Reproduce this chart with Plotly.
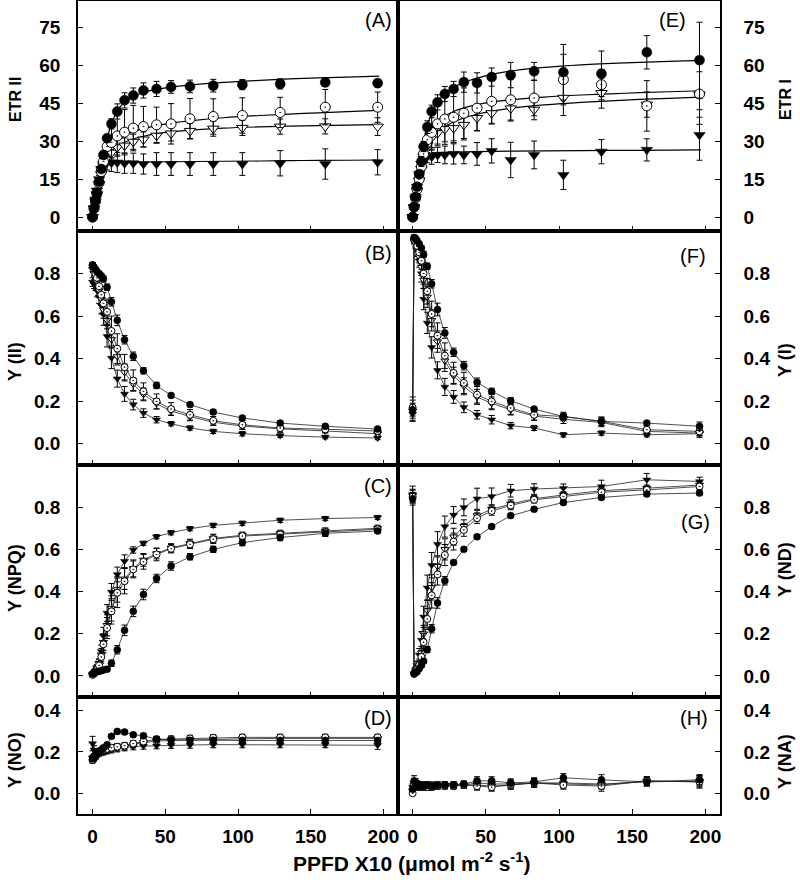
import plotly.graph_objects as go
from plotly.subplots import make_subplots

# ---------------- data ----------------
ppfd = [0, 1, 2, 3, 4.5, 6, 7.5, 10, 13, 17, 22, 28, 35, 44, 54, 67, 83, 103, 129, 160, 196]
fit_ppfd = [0, 2, 4, 6, 8, 10, 13, 17, 22, 28, 35, 44, 55, 70, 90, 115, 145, 175, 197]

# (A) ETR II
etr2_s1 = [0, 3.5, 6.5, 9.5, 14, 19, 24.6, 31.2, 36.9, 41.8, 46.2, 48.1, 50.1, 50.7, 51.5, 51.7, 52.0, 52.4, 52.7, 53.3, 53.0]
etr2_s1_err = [0.5, 0.5, 0.8, 1, 1, 1.2, 1.5, 1.5, 2, 3, 3, 3, 3, 3, 2.5, 2.5, 2.5, 2, 2, 1.5, 1.5]
etr2_s2 = [0, 3.4, 6.3, 9.3, 13.5, 18, 22, 27.9, 29.5, 32.1, 33.6, 35.2, 35.8, 36.5, 36.9, 38.9, 39.8, 40.2, 41.4, 43.5, 43.5]
etr2_s2_err = [0.5, 0.5, 0.8, 1, 1.5, 2, 3, 4, 6, 8, 9, 9, 8, 7, 8, 8, 7, 7, 6, 7, 6]
etr2_s3 = [0, 3.3, 6.2, 9, 13, 17, 20.5, 23.5, 25.5, 27.6, 28.3, 29.8, 30.7, 32.2, 33.1, 34.1, 35.0, 35.3, 35.8, 35.9, 35.8]
etr2_s3_err = [0.5, 0.5, 0.8, 1, 1.2, 1.5, 2, 2, 2.5, 3, 3, 3, 3, 3, 3, 3, 3, 3, 3, 3, 3.5]
etr2_s4 = [0, 3.5, 7, 10.5, 15, 19, 21, 21.6, 21.5, 21.6, 21.3, 21.3, 21.0, 21.0, 21.0, 21.0, 21.0, 21.0, 21.3, 21.0, 21.7]
etr2_s4_err = [0.5, 0.5, 1, 1, 1.5, 2, 2.5, 3, 3.5, 4, 4, 4, 4, 4.5, 4.5, 4.5, 4.5, 4.5, 5, 6, 5]
etr2_fit1 = [0, 7, 14, 20.5, 26, 31, 37, 42, 45.5, 47.8, 49.3, 50.5, 51.5, 52.4, 53.3, 54.1, 54.9, 55.4, 55.8]
etr2_fit2 = [0, 6.5, 13, 18, 22, 25, 28, 30.5, 32.3, 33.8, 35, 36.2, 37.3, 38.3, 39.3, 40.2, 41.0, 41.7, 42.2]
etr2_fit3 = [0, 6.3, 12.5, 17.5, 21, 23.5, 26, 28, 29.6, 30.9, 32, 33, 33.8, 34.5, 35.2, 35.7, 36.1, 36.4, 36.6]
etr2_fit4 = [0, 7, 13.5, 18, 20.5, 21.3, 21.6, 21.6, 21.6, 21.6, 21.7, 21.8, 21.9, 22, 22.1, 22.2, 22.4, 22.5, 22.6]

# (E) ETR I
etr1_s1 = [0, 4, 8, 12, 17, 22, 27.9, 35.6, 41.8, 45.4, 48.7, 50.7, 53.4, 53.1, 55.4, 56.2, 57.7, 57.3, 56.7, 65.2, 62.1]
etr1_s1_err = [0.5, 0.5, 1, 1, 1.5, 2, 2, 2.5, 2.5, 3, 3, 3, 4, 4, 3.6, 5, 3.5, 11, 9, 6.6, 15]
etr1_s2 = [0, 4, 7.5, 11, 15, 20, 25, 30.6, 33.5, 36.9, 38.8, 39.5, 41.1, 43.1, 45.8, 46.4, 47.1, 54.4, 52.4, 44.0, 48.7]
etr1_s2_err = [0.5, 0.5, 1, 1, 1.5, 2, 3, 5, 7, 8, 10, 10, 10, 9, 9, 8, 7, 10, 6, 10, 12]
etr1_s3 = [0, 3.8, 7.3, 10.5, 14.5, 19, 24, 28.5, 31.5, 33.2, 34.8, 35.2, 36.5, 39.2, 41.1, 43.0, 42.5, 47.2, 49.1, 44.5, 48.5]
etr1_s3_err = [0.5, 0.5, 1, 1, 1.5, 2, 2.5, 3, 4, 5, 5, 5, 6, 5, 4, 5, 4, 7, 6, 5, 9]
etr1_s4 = [0, 4, 8, 12, 17, 21, 23, 24, 23.9, 24.6, 24.6, 25, 24.6, 25, 26.2, 22.6, 24.6, 16.7, 25.9, 26.6, 32.5]
etr1_s4_err = [0.5, 0.5, 1, 1, 1.5, 2, 2, 2.5, 3, 3, 3.5, 4, 3.5, 4.5, 4.8, 7, 5.5, 5.8, 4.8, 4.4, 10]
etr1_fit1 = [0, 9, 17.5, 25, 31, 36, 41, 45.5, 48.8, 51.3, 53.3, 55, 56.6, 58, 59.2, 60.2, 61, 61.6, 62]
etr1_fit2 = [0, 8.8, 17, 24, 29, 32.5, 35.5, 38, 40, 41.8, 43.2, 44.5, 45.6, 46.6, 47.5, 48.3, 49, 49.6, 50]
etr1_fit3 = [0, 8.5, 16, 22, 26, 28.7, 31.3, 33.8, 35.8, 37.6, 39.2, 40.7, 42, 43.3, 44.4, 45.4, 46.3, 47, 47.5]
etr1_fit4 = [0, 8, 15.5, 20.5, 23.3, 24.6, 25.2, 25.5, 25.6, 25.7, 25.8, 25.9, 26, 26.1, 26.2, 26.3, 26.4, 26.5, 26.6]

# (B) Y(II)
y2_s1 = [0.84, 0.83, 0.82, 0.81, 0.80, 0.79, 0.775, 0.736, 0.667, 0.58, 0.489, 0.411, 0.343, 0.274, 0.227, 0.184, 0.149, 0.121, 0.097, 0.082, 0.069]
y2_s1_err = [0.01, 0.01, 0.01, 0.01, 0.01, 0.01, 0.015, 0.015, 0.02, 0.025, 0.02, 0.02, 0.015, 0.015, 0.01, 0.01, 0.01, 0.01, 0.01, 0.01, 0.01]
y2_s2 = [0.84, 0.82, 0.80, 0.78, 0.74, 0.70, 0.66, 0.62, 0.53, 0.447, 0.36, 0.297, 0.246, 0.199, 0.163, 0.136, 0.108, 0.089, 0.074, 0.068, 0.060]
y2_s2_err = [0.01, 0.01, 0.02, 0.02, 0.03, 0.04, 0.05, 0.06, 0.07, 0.07, 0.06, 0.05, 0.04, 0.035, 0.03, 0.025, 0.02, 0.02, 0.02, 0.015, 0.015]
y2_s3 = [0.82, 0.80, 0.78, 0.76, 0.72, 0.68, 0.63, 0.58, 0.49, 0.41, 0.335, 0.28, 0.232, 0.188, 0.154, 0.128, 0.101, 0.083, 0.07, 0.06, 0.047]
y2_s3_err = [0.01, 0.01, 0.02, 0.02, 0.03, 0.03, 0.04, 0.04, 0.04, 0.04, 0.04, 0.03, 0.03, 0.025, 0.02, 0.02, 0.015, 0.015, 0.015, 0.01, 0.01]
y2_s4 = [0.76, 0.75, 0.74, 0.72, 0.69, 0.65, 0.607, 0.505, 0.403, 0.306, 0.234, 0.184, 0.144, 0.113, 0.094, 0.074, 0.058, 0.047, 0.038, 0.031, 0.027]
y2_s4_err = [0.02, 0.02, 0.02, 0.03, 0.03, 0.04, 0.05, 0.05, 0.05, 0.04, 0.035, 0.025, 0.02, 0.015, 0.01, 0.01, 0.01, 0.01, 0.008, 0.008, 0.008]

# (F) Y(I)
y1_s1 = [0.16, 0.97, 0.965, 0.955, 0.94, 0.92, 0.89, 0.834, 0.752, 0.631, 0.521, 0.43, 0.367, 0.289, 0.246, 0.202, 0.163, 0.128, 0.105, 0.097, 0.082]
y1_s1_err = [0.03, 0.01, 0.01, 0.01, 0.01, 0.01, 0.015, 0.015, 0.02, 0.03, 0.025, 0.02, 0.02, 0.02, 0.015, 0.015, 0.01, 0.015, 0.02, 0.01, 0.02]
y1_s2 = [0.17, 0.96, 0.95, 0.93, 0.90, 0.86, 0.80, 0.717, 0.61, 0.508, 0.414, 0.333, 0.286, 0.231, 0.199, 0.168, 0.136, 0.128, 0.105, 0.066, 0.058]
y1_s2_err = [0.05, 0.01, 0.02, 0.02, 0.03, 0.04, 0.05, 0.06, 0.06, 0.06, 0.06, 0.05, 0.05, 0.04, 0.035, 0.03, 0.025, 0.02, 0.02, 0.02, 0.02]
y1_s3 = [0.155, 0.95, 0.94, 0.92, 0.88, 0.83, 0.77, 0.69, 0.58, 0.48, 0.39, 0.32, 0.27, 0.22, 0.19, 0.16, 0.13, 0.115, 0.1, 0.058, 0.05]
y1_s3_err = [0.05, 0.01, 0.02, 0.02, 0.03, 0.04, 0.04, 0.05, 0.05, 0.05, 0.05, 0.04, 0.04, 0.035, 0.03, 0.025, 0.02, 0.02, 0.02, 0.02, 0.02]
y1_s4 = [0.14, 0.96, 0.94, 0.91, 0.86, 0.80, 0.68, 0.568, 0.453, 0.345, 0.267, 0.22, 0.171, 0.136, 0.113, 0.085, 0.074, 0.042, 0.05, 0.042, 0.047]
y1_s4_err = [0.03, 0.02, 0.02, 0.03, 0.03, 0.04, 0.05, 0.05, 0.05, 0.04, 0.04, 0.03, 0.025, 0.02, 0.02, 0.015, 0.012, 0.01, 0.01, 0.01, 0.01]

# (C) Y(NPQ)
npq_s1 = [0.01, 0.015, 0.018, 0.02, 0.022, 0.025, 0.028, 0.032, 0.06, 0.124, 0.216, 0.306, 0.386, 0.462, 0.521, 0.565, 0.60, 0.632, 0.656, 0.676, 0.687]
npq_s1_err = [0.005, 0.005, 0.005, 0.005, 0.005, 0.005, 0.005, 0.01, 0.015, 0.02, 0.025, 0.025, 0.025, 0.02, 0.02, 0.015, 0.015, 0.015, 0.015, 0.015, 0.01]
npq_s2 = [0.005, 0.01, 0.02, 0.03, 0.05, 0.09, 0.15, 0.227, 0.306, 0.394, 0.449, 0.505, 0.541, 0.576, 0.603, 0.624, 0.648, 0.663, 0.671, 0.682, 0.695]
npq_s2_err = [0.005, 0.005, 0.01, 0.015, 0.02, 0.03, 0.04, 0.05, 0.06, 0.07, 0.06, 0.04, 0.035, 0.03, 0.02, 0.02, 0.02, 0.015, 0.015, 0.015, 0.015]
npq_s3 = [0.005, 0.01, 0.02, 0.035, 0.06, 0.1, 0.16, 0.24, 0.32, 0.41, 0.46, 0.51, 0.55, 0.58, 0.607, 0.628, 0.652, 0.667, 0.676, 0.687, 0.70]
npq_s3_err = [0.005, 0.005, 0.01, 0.015, 0.02, 0.03, 0.04, 0.05, 0.06, 0.06, 0.05, 0.04, 0.03, 0.025, 0.02, 0.02, 0.02, 0.015, 0.015, 0.015, 0.015]
npq_s4 = [0.01, 0.015, 0.025, 0.04, 0.06, 0.116, 0.19, 0.298, 0.398, 0.481, 0.544, 0.597, 0.629, 0.66, 0.679, 0.698, 0.714, 0.724, 0.738, 0.746, 0.751]
npq_s4_err = [0.005, 0.005, 0.01, 0.015, 0.02, 0.03, 0.04, 0.04, 0.04, 0.035, 0.03, 0.015, 0.01, 0.01, 0.01, 0.01, 0.01, 0.01, 0.01, 0.01, 0.01]

# (G) Y(ND)
nd_s1 = [0.84, 0.01, 0.015, 0.02, 0.035, 0.05, 0.07, 0.125, 0.224, 0.346, 0.451, 0.538, 0.60, 0.66, 0.708, 0.76, 0.79, 0.822, 0.846, 0.862, 0.867]
nd_s1_err = [0.03, 0.005, 0.005, 0.005, 0.01, 0.01, 0.01, 0.015, 0.02, 0.025, 0.02, 0.01, 0.01, 0.01, 0.01, 0.01, 0.01, 0.01, 0.01, 0.01, 0.01]
nd_s2 = [0.85, 0.01, 0.02, 0.03, 0.05, 0.09, 0.16, 0.27, 0.382, 0.481, 0.573, 0.637, 0.692, 0.748, 0.782, 0.808, 0.835, 0.851, 0.871, 0.882, 0.898]
nd_s2_err = [0.03, 0.005, 0.01, 0.01, 0.02, 0.03, 0.04, 0.05, 0.06, 0.05, 0.05, 0.04, 0.03, 0.025, 0.02, 0.02, 0.015, 0.015, 0.015, 0.015, 0.015]
nd_s3 = [0.855, 0.01, 0.02, 0.035, 0.06, 0.11, 0.2, 0.31, 0.42, 0.52, 0.60, 0.66, 0.71, 0.76, 0.79, 0.815, 0.84, 0.858, 0.878, 0.89, 0.905]
nd_s3_err = [0.03, 0.005, 0.01, 0.01, 0.02, 0.03, 0.04, 0.05, 0.06, 0.05, 0.05, 0.04, 0.03, 0.025, 0.02, 0.02, 0.015, 0.015, 0.015, 0.015, 0.015]
nd_s4 = [0.86, 0.01, 0.03, 0.05, 0.1, 0.17, 0.28, 0.418, 0.525, 0.624, 0.708, 0.763, 0.799, 0.84, 0.851, 0.878, 0.886, 0.89, 0.898, 0.93, 0.922]
nd_s4_err = [0.04, 0.005, 0.01, 0.02, 0.03, 0.04, 0.05, 0.06, 0.06, 0.06, 0.05, 0.04, 0.04, 0.05, 0.04, 0.03, 0.025, 0.02, 0.03, 0.03, 0.02]

# (D) Y(NO)
no_s1 = [0.165, 0.17, 0.18, 0.19, 0.2, 0.21, 0.22, 0.234, 0.275, 0.299, 0.296, 0.283, 0.278, 0.262, 0.258, 0.256, 0.256, 0.255, 0.255, 0.255, 0.255]
no_s1_err = [0.01, 0.01, 0.01, 0.01, 0.01, 0.01, 0.01, 0.01, 0.01, 0.01, 0.01, 0.01, 0.01, 0.01, 0.01, 0.012, 0.012, 0.012, 0.012, 0.012, 0.012]
no_s2 = [0.16, 0.17, 0.18, 0.19, 0.2, 0.205, 0.21, 0.215, 0.22, 0.225, 0.23, 0.24, 0.25, 0.26, 0.262, 0.265, 0.268, 0.27, 0.27, 0.27, 0.27]
no_s2_err = [0.015, 0.015, 0.015, 0.015, 0.015, 0.015, 0.015, 0.015, 0.015, 0.015, 0.015, 0.015, 0.015, 0.015, 0.015, 0.015, 0.015, 0.015, 0.015, 0.015, 0.015]
no_s3 = [0.17, 0.175, 0.18, 0.19, 0.195, 0.2, 0.205, 0.21, 0.215, 0.22, 0.225, 0.235, 0.245, 0.252, 0.255, 0.258, 0.262, 0.263, 0.265, 0.265, 0.265]
no_s3_err = [0.015, 0.015, 0.015, 0.015, 0.015, 0.015, 0.015, 0.015, 0.015, 0.015, 0.015, 0.015, 0.015, 0.015, 0.015, 0.015, 0.015, 0.015, 0.015, 0.015, 0.015]
no_s4 = [0.24, 0.21, 0.2, 0.195, 0.195, 0.2, 0.2, 0.205, 0.21, 0.215, 0.22, 0.225, 0.228, 0.23, 0.232, 0.233, 0.235, 0.235, 0.235, 0.235, 0.232]
no_s4_err = [0.035, 0.02, 0.015, 0.015, 0.015, 0.015, 0.015, 0.015, 0.015, 0.015, 0.015, 0.015, 0.015, 0.015, 0.015, 0.015, 0.015, 0.015, 0.015, 0.015, 0.02]

# (H) Y(NA)
na_s1 = [0.02, 0.06, 0.05, 0.04, 0.04, 0.035, 0.035, 0.04, 0.035, 0.04, 0.04, 0.04, 0.045, 0.06, 0.06, 0.05, 0.055, 0.075, 0.065, 0.055, 0.065]
na_s1_err = [0.01, 0.025, 0.02, 0.02, 0.015, 0.015, 0.015, 0.015, 0.015, 0.015, 0.015, 0.015, 0.015, 0.02, 0.02, 0.02, 0.02, 0.02, 0.025, 0.02, 0.025]
na_s2 = [0.0, 0.045, 0.04, 0.035, 0.03, 0.03, 0.03, 0.03, 0.03, 0.035, 0.035, 0.035, 0.04, 0.035, 0.03, 0.04, 0.05, 0.04, 0.035, 0.06, 0.055]
na_s2_err = [0.01, 0.02, 0.02, 0.015, 0.015, 0.015, 0.015, 0.015, 0.015, 0.015, 0.015, 0.015, 0.015, 0.02, 0.02, 0.02, 0.02, 0.02, 0.025, 0.02, 0.03]
na_s3 = [0.01, 0.04, 0.04, 0.03, 0.03, 0.03, 0.03, 0.035, 0.035, 0.035, 0.04, 0.04, 0.04, 0.04, 0.035, 0.04, 0.05, 0.045, 0.04, 0.06, 0.055]
na_s3_err = [0.01, 0.02, 0.02, 0.015, 0.015, 0.015, 0.015, 0.015, 0.015, 0.015, 0.015, 0.015, 0.015, 0.02, 0.02, 0.02, 0.02, 0.02, 0.02, 0.02, 0.025]
na_s4 = [0.03, 0.05, 0.05, 0.045, 0.04, 0.04, 0.04, 0.04, 0.04, 0.04, 0.04, 0.04, 0.04, 0.05, 0.045, 0.045, 0.05, 0.05, 0.045, 0.055, 0.06]
na_s4_err = [0.015, 0.02, 0.02, 0.015, 0.015, 0.015, 0.015, 0.015, 0.015, 0.015, 0.015, 0.015, 0.015, 0.02, 0.02, 0.02, 0.02, 0.02, 0.02, 0.02, 0.025]

x_ticks = [0, 50, 100, 150, 200]
etr_ticks = [0, 15, 30, 45, 60, 75]
y_ticks_08 = [0.0, 0.2, 0.4, 0.6, 0.8]
y_ticks_04 = [0.0, 0.2, 0.4]

# ---------------- figure ----------------
W, H = 800, 884
ML, MR, MT, MB = 78, 80, 1, 70
fig = make_subplots(rows=4, cols=2, row_heights=[230, 234, 232, 117],
                    column_widths=[320, 322], horizontal_spacing=0, vertical_spacing=0)

FONT = "Liberation Sans, Arial, sans-serif"

def sym_style(k, big):
    sz = 10 if big else 7
    if k == 1:
        return dict(symbol="circle", size=sz, color="black", line=dict(color="black", width=0.5))
    if k == 2:
        return dict(symbol="circle-dot", size=sz, color="white", line=dict(color="black", width=1))
    if k == 3:
        return dict(symbol="triangle-down", size=sz, color="white", line=dict(color="black", width=1))
    return dict(symbol="triangle-down", size=sz, color="black", line=dict(color="black", width=0.5))

def add_points(series, row, col, big, connect):
    # draw in order 4,3,2,1 so filled circles sit on top
    for k in (4, 3, 2, 1):
        ys, es = series[k - 1]
        fig.add_trace(go.Scatter(
            x=ppfd, y=ys,
            mode="lines+markers" if connect else "markers",
            line=dict(color="#222", width=0.8),
            marker=sym_style(k, big),
            error_y=dict(type="data", array=es, visible=True, color="black", thickness=1, width=3),
            showlegend=False, hoverinfo="skip"), row=row, col=col)

def add_fits(fits, row, col):
    for f in fits:
        fig.add_trace(go.Scatter(x=fit_ppfd, y=f, mode="lines", line=dict(color="black", width=1.2, shape="spline"),
                                 showlegend=False, hoverinfo="skip"), row=row, col=col)

add_fits([etr2_fit1, etr2_fit2, etr2_fit3, etr2_fit4], 1, 1)
add_points([(etr2_s1, etr2_s1_err), (etr2_s2, etr2_s2_err), (etr2_s3, etr2_s3_err), (etr2_s4, etr2_s4_err)], 1, 1, True, False)
add_fits([etr1_fit1, etr1_fit2, etr1_fit3, etr1_fit4], 1, 2)
add_points([(etr1_s1, etr1_s1_err), (etr1_s2, etr1_s2_err), (etr1_s3, etr1_s3_err), (etr1_s4, etr1_s4_err)], 1, 2, True, False)
add_points([(y2_s1, y2_s1_err), (y2_s2, y2_s2_err), (y2_s3, y2_s3_err), (y2_s4, y2_s4_err)], 2, 1, False, True)
add_points([(y1_s1, y1_s1_err), (y1_s2, y1_s2_err), (y1_s3, y1_s3_err), (y1_s4, y1_s4_err)], 2, 2, False, True)
add_points([(npq_s1, npq_s1_err), (npq_s2, npq_s2_err), (npq_s3, npq_s3_err), (npq_s4, npq_s4_err)], 3, 1, False, True)
add_points([(nd_s1, nd_s1_err), (nd_s2, nd_s2_err), (nd_s3, nd_s3_err), (nd_s4, nd_s4_err)], 3, 2, False, True)
add_points([(no_s1, no_s1_err), (no_s2, no_s2_err), (no_s3, no_s3_err), (no_s4, no_s4_err)], 4, 1, False, True)
add_points([(na_s1, na_s1_err), (na_s2, na_s2_err), (na_s3, na_s3_err), (na_s4, na_s4_err)], 4, 2, False, True)

tickfont = dict(family=FONT, size=19, color="black", weight="bold")
for r in range(1, 5):
    for c in range(1, 3):
        fig.update_xaxes(range=[-10, 210], tickvals=x_ticks, ticks="inside", ticklen=5, tickwidth=1,
                         tickcolor="black", showline=True, linecolor="black", linewidth=1.5, mirror=True,
                         showgrid=False, zeroline=False, showticklabels=(r == 4), tickfont=tickfont,
                         ticklabelstandoff=4, row=r, col=c)

y_specs = {
    1: ([-5.5, 85.5], etr_ticks, None),
    2: ([-0.1, 1.0], y_ticks_08, ".1f"),
    3: ([-0.1, 1.0], y_ticks_08, ".1f"),
    4: ([-0.1, 0.465], y_ticks_04, ".1f"),
}
for r in range(1, 5):
    rng, tv, fmt = y_specs[r]
    for c in range(1, 3):
        fig.update_yaxes(range=rng, tickvals=tv, tickformat=fmt, ticks="inside", ticklen=5, tickwidth=1,
                         tickcolor="black", showline=True, linecolor="black", linewidth=1.5, mirror=True,
                         showgrid=False, zeroline=False, side="left" if c == 1 else "right",
                         tickfont=tickfont, ticklabelstandoff=12 if c == 1 else 18, row=r, col=c)

def px(xp):
    return (xp - ML) / (W - ML - MR)

def py(yp):
    return (H - MB - yp) / (H - MT - MB)

ann = []
panel_labels = [("(A)", 394, 20), ("(B)", 394, 253), ("(C)", 394, 486), ("(D)", 394, 718),
                ("(E)", 688, 20), ("(F)", 708, 256), ("(G)", 712, 522), ("(H)", 710, 718)]
for t, xx, yy in panel_labels:
    ann.append(dict(text=t, x=px(xx), y=py(yy), xref="paper", yref="paper", xanchor="right", yanchor="middle",
                    showarrow=False, font=dict(family=FONT, size=20, color="black")))

left_titles = [("ETR II", 100, 16), ("Y (II)", 362, 18), ("Y (NPQ)", 578, 18), ("Y (NO)", 760, 18)]
right_titles = [("ETR I", 100, 16), ("Y (I)", 360, 18), ("Y (ND)", 570, 18), ("Y (NA)", 762, 18)]
for t, yy, fs in left_titles:
    ann.append(dict(text=t, x=px(15), y=py(yy), xref="paper", yref="paper", xanchor="center", yanchor="middle",
                    textangle=-90, showarrow=False, font=dict(family=FONT, size=fs, color="black", weight="bold")))
for t, yy, fs in right_titles:
    ann.append(dict(text=t, x=px(785), y=py(yy), xref="paper", yref="paper", xanchor="center", yanchor="middle",
                    textangle=-90, showarrow=False, font=dict(family=FONT, size=fs, color="black", weight="bold")))

ann.append(dict(text="PPFD X10 (\u03bcmol m<sup>-2</sup> s<sup>-1</sup>)", x=px(411), y=py(862), xref="paper", yref="paper",
                xanchor="center", yanchor="middle", showarrow=False,
                font=dict(family=FONT, size=21, color="black", weight="bold")))

fig.update_layout(width=W, height=H, margin=dict(l=ML, r=MR, t=MT, b=MB, autoexpand=False),
                  plot_bgcolor="white", paper_bgcolor="white", showlegend=False, annotations=ann)

fig.write_html("out.html", config={"displayModeBar": False},
               post_script="document.body.style.margin='0';document.body.style.overflow='hidden';")
